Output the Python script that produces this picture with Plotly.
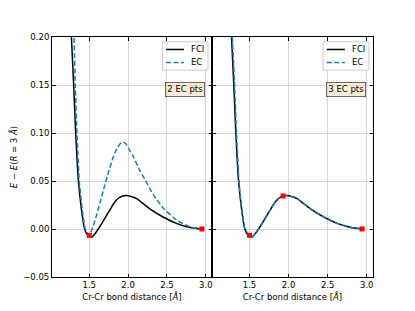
import plotly.graph_objects as go

# ---- data ----
fci_x = [1.12, 1.20, 1.27, 1.30, 1.325, 1.36, 1.40, 1.44, 1.48, 1.53, 1.58, 1.62, 1.66, 1.71,
         1.77, 1.83, 1.89, 1.97, 2.05, 2.11, 2.28, 2.45, 2.63, 2.80, 2.95]
fci_y = [0.50, 0.335, 0.200, 0.148, 0.100, 0.050, 0.020, 0.000, -0.0065, -0.0085, -0.0042,
         0.0005, 0.0056, 0.0125, 0.0205, 0.0283, 0.0330, 0.0350, 0.0336, 0.0317, 0.0210,
         0.0125, 0.0056, 0.0015, 0.0]

ec2_x = [1.12, 1.20, 1.303, 1.32, 1.341, 1.371, 1.41, 1.448, 1.50, 1.55, 1.60, 1.65, 1.70,
         1.75, 1.80, 1.85, 1.90, 1.93, 1.97, 2.02, 2.07, 2.15, 2.20, 2.33, 2.46, 2.63, 2.80, 2.95]
ec2_y = [0.55, 0.37, 0.200, 0.150, 0.100, 0.050, 0.020, 0.000, -0.0067, 0.003, 0.016, 0.031,
         0.046, 0.060, 0.073, 0.083, 0.089, 0.0906, 0.089, 0.082, 0.075, 0.061, 0.054,
         0.035, 0.0212, 0.009, 0.0021, 0.0]

ec3_x = [1.12, 1.20, 1.28, 1.31, 1.333, 1.365, 1.40, 1.44, 1.50, 1.53, 1.58, 1.62, 1.66,
         1.71, 1.77, 1.83, 1.89, 1.93, 1.97, 2.05, 2.11, 2.28, 2.45, 2.63, 2.80, 2.94]
ec3_y = [0.52, 0.35, 0.200, 0.148, 0.100, 0.050, 0.020, 0.000, -0.0066, -0.0083, -0.0040,
         0.0007, 0.0058, 0.0128, 0.0207, 0.0285, 0.0330, 0.0344, 0.0348, 0.0334, 0.0315,
         0.0212, 0.0127, 0.0058, 0.0016, 0.0]

pts2_x = [1.50, 2.95]
pts2_y = [-0.0067, 0.0]
pts3_x = [1.50, 1.93, 2.94]
pts3_y = [-0.0066, 0.0344, 0.0]

x_ticks = [1.5, 2.0, 2.5, 3.0]
y_ticks = [-0.05, 0.0, 0.05, 0.10, 0.15, 0.20]
y_tick_labels = ["−0.05", "0.00", "0.05", "0.10", "0.15", "0.20"]
panel_labels = ["2 EC pts", "3 EC pts"]
legend_names = ["FCI", "EC"]

FONT = "DejaVu Sans"
BLUE = "#1f77b4"
FCI_LINE = dict(color="black", width=1.5, shape="spline", smoothing=0.5)
EC_LINE = dict(color=BLUE, width=1.5, dash="5px,2.5px", shape="spline", smoothing=0.5)

fig = go.Figure()

def add_panel(xa, ya, ec_x, ec_y, px, py):
    fig.add_trace(go.Scatter(x=fci_x, y=fci_y, mode="lines", name=legend_names[0],
                             line=FCI_LINE, xaxis=xa, yaxis=ya, showlegend=False))
    fig.add_trace(go.Scatter(x=ec_x, y=ec_y, mode="lines", name=legend_names[1],
                             line=EC_LINE, xaxis=xa, yaxis=ya, showlegend=False))
    fig.add_trace(go.Scatter(x=px, y=py, mode="markers", showlegend=False,
                             marker=dict(symbol="square", color="red", size=5),
                             xaxis=xa, yaxis=ya))

add_panel("x", "y", ec2_x, ec2_y, pts2_x, pts2_y)
add_panel("x2", "y2", ec3_x, ec3_y, pts3_x, pts3_y)

split = 160 / 321
axis_common = dict(showline=True, linecolor="black", linewidth=1, mirror="allticks",
                   ticks="inside", ticklen=3.5, tickcolor="black", showgrid=True,
                   gridcolor="#d6d6d6", gridwidth=1, zeroline=False, automargin=False,
                   tickfont=dict(family=FONT, size=8.5, color="black"))
xt = dict(range=[1.02, 3.08], tickvals=x_ticks, ticktext=[f"{v:.1f}" for v in x_ticks],
          title=dict(text="Cr-Cr bond distance [<i>Å</i>]",
                     font=dict(family=FONT, size=8.5, color="black"), standoff=4))
yt = dict(range=[-0.05, 0.20], tickvals=y_ticks)

# the page body adds an 8px offset, so margins are shifted to compensate
fig.update_layout(
    width=415, height=311,
    margin=dict(l=44, r=50, t=29, b=42),
    paper_bgcolor="white", plot_bgcolor="white",
    xaxis=dict(domain=[0, split], anchor="y", **axis_common, **xt),
    xaxis2=dict(domain=[split, 1], anchor="y2", **axis_common, **xt),
    yaxis=dict(domain=[0, 1], anchor="x", **axis_common, **yt, ticktext=y_tick_labels,
               title=dict(text="<i>E</i> − <i>E</i>(<i>R</i> = 3 <i>Å</i>)",
                          font=dict(family=FONT, size=8.5, color="black"), standoff=6)),
    yaxis2=dict(domain=[0, 1], anchor="x2", **axis_common, **yt, showticklabels=False),
    showlegend=False,
)

# panel legends (drawn in each panel's upper-right corner) and text boxes
for i, (xr, yr) in enumerate([("x domain", "y domain"), ("x2 domain", "y2 domain")]):
    fig.add_shape(type="rect", xref=xr, yref=yr, x0=0.69, x1=0.975, y0=0.862, y1=0.98,
                  fillcolor="rgba(255,255,255,0.85)", line=dict(color="#cccccc", width=1),
                  layer="above")
    fig.add_shape(type="line", xref=xr, yref=yr, x0=0.713, x1=0.825, y0=0.948, y1=0.948,
                  line=dict(color="black", width=1.5), layer="above")
    fig.add_shape(type="line", xref=xr, yref=yr, x0=0.713, x1=0.825, y0=0.894, y1=0.894,
                  line=dict(color=BLUE, width=1.5, dash="5px,2.5px"), layer="above")
    for j, yy in enumerate([0.948, 0.894]):
        fig.add_annotation(text=legend_names[j], xref=xr, yref=yr, x=0.855, y=yy,
                           xanchor="left", yanchor="middle", showarrow=False,
                           font=dict(family=FONT, size=8.5, color="black"))
    fig.add_annotation(text=panel_labels[i], xref=xr, yref=yr, x=0.958, y=0.78,
                       xanchor="right", yanchor="middle", showarrow=False,
                       font=dict(family=FONT, size=8.5, color="black"),
                       bgcolor="rgba(245,222,179,0.5)", bordercolor="#444444",
                       borderwidth=0.8, borderpad=1.5)

fig.write_html("out.html")
